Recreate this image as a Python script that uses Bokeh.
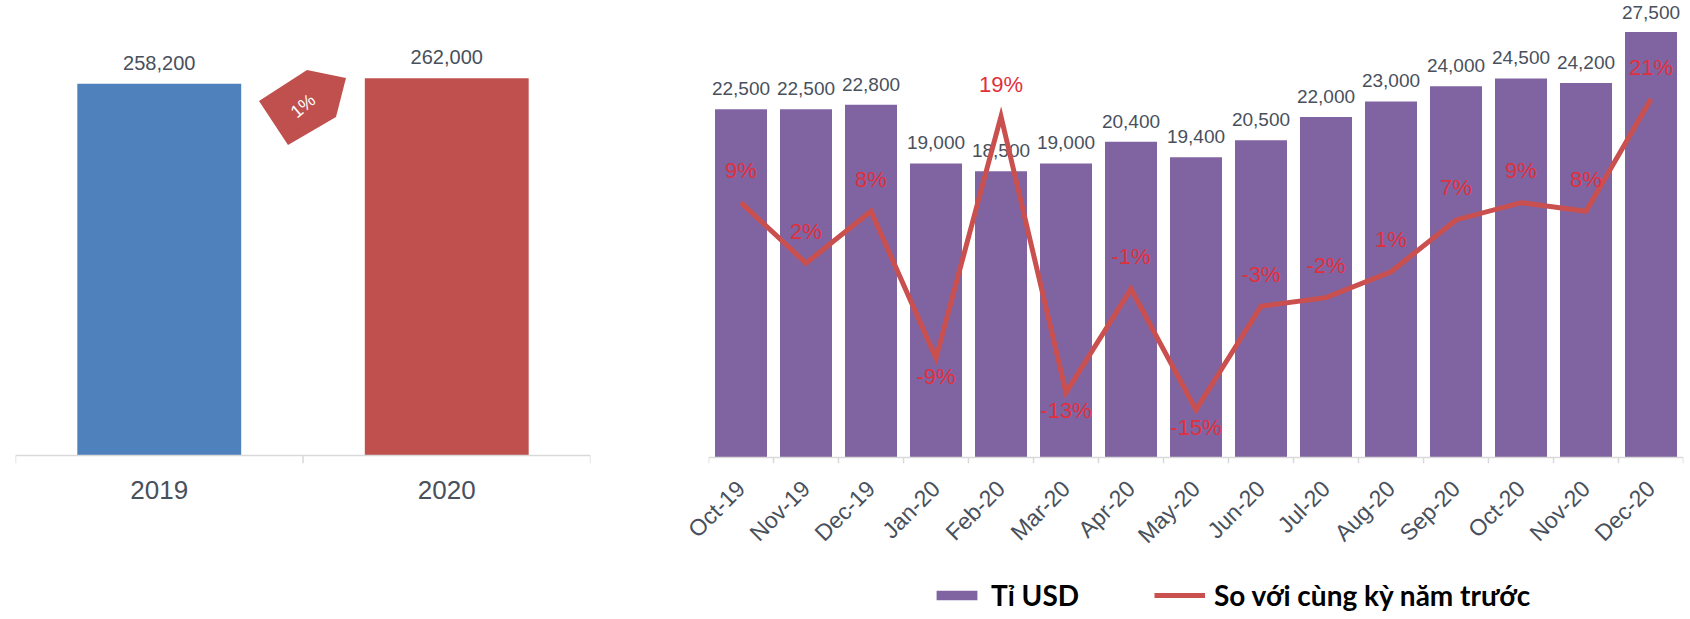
import math
import numpy as np
from bokeh.plotting import figure
from bokeh.models import (ColumnDataSource, Range1d, FactorRange, Span,
                          Legend, LegendItem)
from bokeh.layouts import row, column
from bokeh.embed import file_html
from bokeh.resources import INLINE
from bokeh.core.properties import value

# ---------------- data ----------------
years = ["2019", "2020"]
year_values = [258200, 262000]
year_colors = ["#4f81bd", "#c0504d"]

months = ["Oct-19", "Nov-19", "Dec-19", "Jan-20", "Feb-20", "Mar-20", "Apr-20",
          "May-20", "Jun-20", "Jul-20", "Aug-20", "Sep-20", "Oct-20", "Nov-20", "Dec-20"]
month_values = [22500, 22500, 22800, 19000, 18500, 19000, 20400, 19400,
                20500, 22000, 23000, 24000, 24500, 24200, 27500]
yoy_pct = [9, 2, 8, -9, 19, -13, -1, -15, -3, -2, 1, 7, 9, 8, 21]
labels_below = ["Jan-20", "Mar-20", "May-20"]

bar_legend = "Tỉ USD"
line_legend = "So với cùng kỳ năm trước"

# ---------------- styles ----------------
FONT = "Liberation Sans"
LEG_FONT = "Lato"
GRAY_TXT = "#48505c"
AXIS_GRAY = "#d9d9d9"
PCT_RED = "#e0303c"
LINE_RED = "#c9504f"
PURPLE = "#8064a2"

TOP_H = 575
LEG_H = 44

# ---------------- left chart ----------------
L_SCALE = 0.00144          # px per unit
L_TICK = 8                 # px
L_TOP_PX = 455
left = figure(x_range=FactorRange(factors=years, range_padding=0),
              y_range=Range1d(-L_TICK / L_SCALE, L_TOP_PX / L_SCALE),
              width=628, height=TOP_H, output_backend="svg", toolbar_location=None,
              min_border_left=15, min_border_right=38, min_border_top=0,
              min_border_bottom=TOP_H - L_TOP_PX - L_TICK)
left.outline_line_color = None
left.xgrid.visible = False
left.ygrid.visible = False
left.yaxis.visible = False

lsrc = ColumnDataSource(dict(x=years, top=year_values, color=year_colors,
                             label=[f"{v:,}" for v in year_values]))
left.vbar(x="x", top="top", width=0.57, fill_color="color", line_color=None, source=lsrc)
left.text(x="x", y="top", text="label", source=lsrc, y_offset=-21,
          text_align="center", text_baseline="middle",
          text_font=value(FONT), text_font_size="20px", text_color=GRAY_TXT)

left.add_layout(Span(location=0, dimension="width", line_color=AXIS_GRAY, line_width=1.5))
lb = np.arange(len(years) + 1)
left.segment(x0=lb, y0=np.zeros(len(lb)), x1=lb, y1=np.full(len(lb), -L_TICK / L_SCALE),
             line_color=AXIS_GRAY, line_width=1.5)

# growth tag between the bars
growth = (year_values[1] / year_values[0] - 1) * 100
cx = len(years) / 2
cy = min(year_values) * 0.94
px_per_cat = 575 / len(years)
shape_px = [(-44, -5), (4, -36), (43, -28), (33, 11), (-15, 39)]
left.patch([cx + dx / px_per_cat for dx, dy in shape_px],
           [cy - dy / L_SCALE for dx, dy in shape_px],
           fill_color="#c0504d", line_color=None)
left.text(x=[cx], y=[cy], text=[f"{int(round(growth))}%"], angle=0.7,
          text_align="center", text_baseline="middle", text_font=value(FONT),
          text_font_size="18px", text_color="white")

left.xaxis.axis_line_color = None
left.xaxis.major_tick_line_color = None
left.xaxis.major_label_text_font = FONT
left.xaxis.major_label_text_font_size = "26px"
left.xaxis.major_label_text_color = GRAY_TXT
left.xaxis.major_label_standoff = 11

# ---------------- right chart ----------------
R_SCALE = 433 / 27500       # px per unit
R_TICK = 6
R_TOP_PX = 465              # px from zero line to frame top
P_SCALE = 8.78              # px per percent
P_ZERO_FROM_TOP = 284.7     # px from frame top to 0%
frame_h = R_TOP_PX + R_TICK

right = figure(x_range=FactorRange(factors=months, range_padding=0),
               y_range=Range1d(-R_TICK / R_SCALE, R_TOP_PX / R_SCALE),
               width=1062, height=TOP_H, output_backend="svg", toolbar_location=None,
               min_border_left=80, min_border_right=7, min_border_top=0,
               min_border_bottom=TOP_H - frame_h)
right.extra_y_ranges = {"pct": Range1d(-(frame_h - P_ZERO_FROM_TOP) / P_SCALE,
                                       P_ZERO_FROM_TOP / P_SCALE)}
right.outline_line_color = None
right.xgrid.visible = False
right.ygrid.visible = False
right.yaxis.visible = False

label_min_gap = 12 / R_SCALE          # keep the top label inside the canvas
label_y = [min(v + 21 / R_SCALE, R_TOP_PX / R_SCALE - label_min_gap) for v in month_values]
rsrc = ColumnDataSource(dict(x=months, top=month_values, label_y=label_y,
                             label=[f"{v:,}" for v in month_values],
                             pct=yoy_pct,
                             pct_label=[f"{p}%" for p in yoy_pct],
                             pct_off=[18 if m in labels_below else -32 for m in months]))
right.vbar(x="x", top="top", width=0.8, fill_color=PURPLE, line_color=None, source=rsrc)
right.text(x="x", y="label_y", text="label", source=rsrc,
           text_align="center", text_baseline="middle",
           text_font=value(FONT), text_font_size="19px", text_color=GRAY_TXT)

right.add_layout(Span(location=0, dimension="width", line_color=AXIS_GRAY, line_width=1.5))
rb = np.arange(len(months) + 1)
right.segment(x0=rb, y0=np.zeros(len(rb)), x1=rb, y1=np.full(len(rb), -R_TICK / R_SCALE),
              line_color=AXIS_GRAY, line_width=1.5)

right.line(x="x", y="pct", source=rsrc, y_range_name="pct",
           line_color=LINE_RED, line_width=5, line_join="miter")
right.text(x="x", y="pct", text="pct_label", source=rsrc, y_range_name="pct",
           y_offset="pct_off", text_align="center", text_baseline="middle",
           text_font=value(FONT), text_font_size="22px", text_color=PCT_RED)

right.xaxis.axis_line_color = None
right.xaxis.major_tick_line_color = None
right.xaxis.major_label_orientation = math.pi / 4
right.xaxis.major_label_text_font = FONT
right.xaxis.major_label_text_font_size = "23px"
right.xaxis.major_label_text_color = GRAY_TXT
right.xaxis.major_label_standoff = 15

# ---------------- legend strip ----------------
leg = figure(width=1690, height=LEG_H, x_range=Range1d(0, 1), y_range=Range1d(0, 1),
             x_axis_type=None, y_axis_type=None, output_backend="svg",
             toolbar_location=None, min_border=0)
leg.outline_line_color = None
leg.xgrid.visible = False
leg.ygrid.visible = False
# swatch renderers kept outside the visible range; only their legend glyphs show
r_bar = leg.vbar(x=[5], top=[5], bottom=[4], width=0.1, fill_color=PURPLE, line_color=None)
r_line = leg.line(x=[5, 6], y=[5, 5], line_color=LINE_RED, line_width=5)
legend = Legend(items=[LegendItem(label=bar_legend, renderers=[r_bar]),
                       LegendItem(label=line_legend, renderers=[r_line])],
                orientation="horizontal", location=(931, 7),
                border_line_color=None, background_fill_alpha=0,
                padding=0, margin=0, spacing=75, label_standoff=9,
                glyph_width=51, glyph_height=12,
                label_text_font=LEG_FONT, label_text_font_style="bold",
                label_text_font_size="28px", label_text_color="black")
leg.add_layout(legend, "center")

layout = column(row(left, right), leg)
open("out.html", "w").write(file_html(layout, INLINE))
